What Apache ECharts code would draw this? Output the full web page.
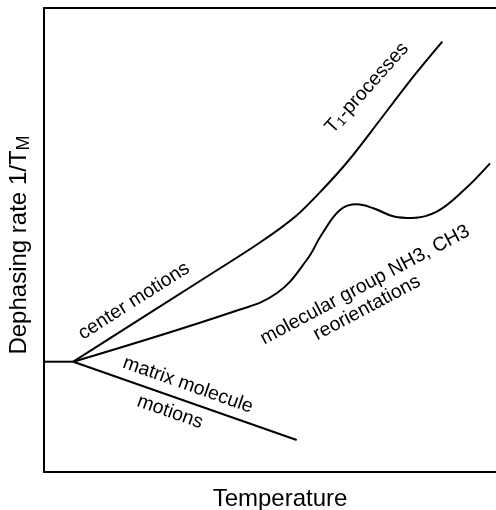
<!DOCTYPE html>
<html>
<head>
<meta charset="utf-8">
<script src="https://cdn.jsdelivr.net/npm/echarts@6/dist/echarts.min.js"></script>
<style>
html,body{margin:0;padding:0;background:#fff;}
#chart{width:496px;height:510px;}
</style>
</head>
<body>
<div id="chart"></div>
<script>
// Schematic curves (arbitrary units: temperature on x, dephasing rate on y)
const baseline = [[0,110.3],[29.3,110.3]];
const t1Processes = [[29.3,110.3],[156,191],[216,229.5],[252,256],[280,284],[305,312],[336,352],[369.3,395.3],[398.3,430.3]];
const molecularGroup = [[29.3,110.3],[189.3,160.3],[232.7,178.7],[262.7,212],[278,238],[296,262],[312.7,267.7],[330,263.5],[350,255.5],[368,254],[392.7,260.3],[420,282],[446,308.7]];
const matrixMotions = [[29.3,110.3],[252.7,32]];
const xTitle = 'Temperature';
const yTitle = 'Dephasing rate 1/T';
const yTitleSub = 'M';

const FONT = '"Liberation Sans", Arial, sans-serif';
const chart = echarts.init(document.getElementById('chart'));
const lineStyle = {color:'#000', width:2};
function mkSeries(data, smooth){
  return {type:'line', data:data, symbol:'none', smooth:smooth, lineStyle:lineStyle, animation:false};
}
function txt(text, x, y, deg, size){
  return {type:'text', x:x, y:y, rotation:deg*Math.PI/180,
    style:{text:text, fill:'#000', font:size+'px '+FONT, align:'center', verticalAlign:'middle'}};
}
const hiddenAxis = {axisLabel:{show:false}, axisTick:{show:false}, splitLine:{show:false}};
chart.setOption({
  backgroundColor:'#fff',
  animation:false,
  grid:{left:44, right:0, top:8, bottom:38, containLabel:false},
  xAxis:[
    Object.assign({type:'value', min:0, max:452, axisLine:{show:true, onZero:false, lineStyle:{color:'#000', width:2}}}, hiddenAxis),
    Object.assign({type:'value', min:0, max:452, position:'top', axisLine:{show:true, onZero:false, lineStyle:{color:'#000', width:2}}}, hiddenAxis)
  ],
  yAxis:Object.assign({type:'value', min:0, max:464, axisLine:{show:true, onZero:false, lineStyle:{color:'#000', width:2}}}, hiddenAxis),
  series:[mkSeries(baseline, false), mkSeries(t1Processes, 0.3), mkSeries(molecularGroup, 0.4), mkSeries(matrixMotions, false)],
  graphic:[
    txt(xTitle, 280, 499, 0, 24),
    {type:'text', x:19, y:245, rotation:Math.PI/2,
      style:{text:'{a|'+yTitle+'}{b|'+yTitleSub+'}', fill:'#000', align:'center', verticalAlign:'middle',
        rich:{a:{font:'24px '+FONT, fill:'#000'}, b:{font:'18px '+FONT, fill:'#000', padding:[10,0,0,0]}}}},
    txt('center motions', 134, 301, 32.5, 19.5),
    {type:'text', x:367, y:88, rotation:48*Math.PI/180,
      style:{text:'{a|T}{b|1}{a|-processes}', fill:'#000', align:'center', verticalAlign:'middle',
        rich:{a:{font:'19.5px '+FONT, fill:'#000'}, b:{font:'13px '+FONT, fill:'#000', padding:[8,0,0,0]}}}},
    txt('molecular group NH3, CH3', 365, 285, 28, 19.5),
    txt('reorientations', 367, 308, 28, 19.5),
    txt('matrix molecule', 188, 385, -19.5, 19.5),
    txt('motions', 170, 412, -19.5, 19.5)
  ]
});
</script>
</body>
</html>
